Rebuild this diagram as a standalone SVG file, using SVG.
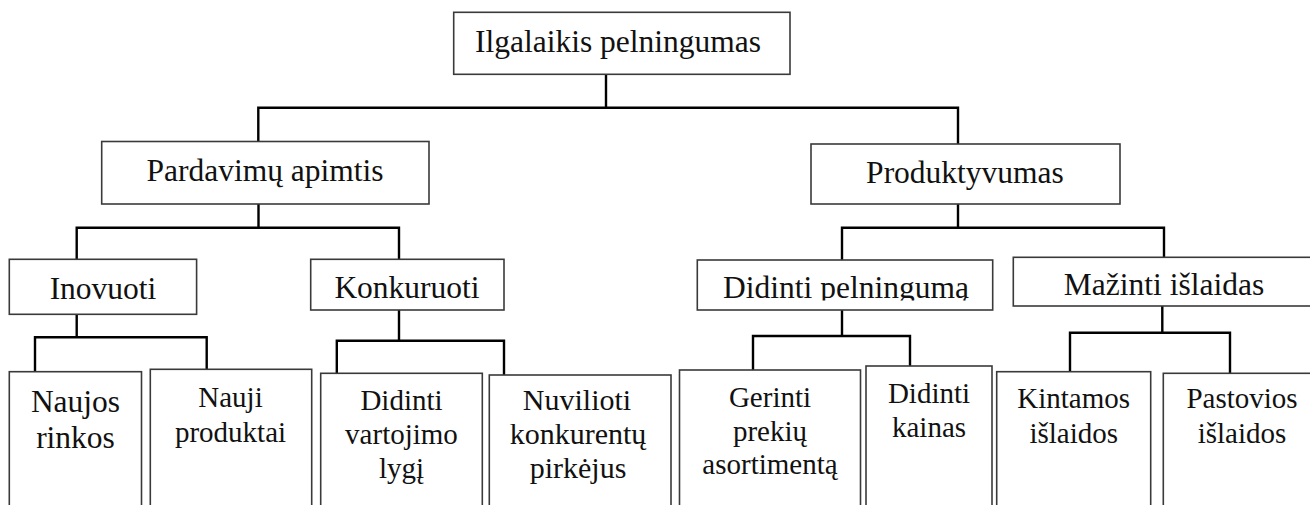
<svg xmlns="http://www.w3.org/2000/svg" width="1310" height="505" viewBox="0 0 1310 505">
<style>
.box{fill:#fff;stroke:#3a3a3a;stroke-width:1.6}
.t{fill:#111;text-anchor:middle}
.h{font-size:31.5px}
.s{font-size:29px}
.c{fill:none;stroke:#000;stroke-width:2.4;stroke-linecap:square}
</style>
<defs>
<clipPath id="clipDP"><rect x="697" y="260" width="296" height="40.5"/></clipPath>
</defs>
<rect width="1310" height="505" fill="#fff"/>
<g id="connectors">
<path class="c" d="M606 74.3V107.7M258.3 107.7H958M258.3 107.7V141.5M958 107.7V144"/>
<path class="c" d="M258.5 204V227.7M76.7 227.7H399M76.7 227.7V259.3M399 227.7V259.3"/>
<path class="c" d="M958 204V227.7M842 227.7H1164M842 227.7V260M1164 227.7V257.3"/>
<path class="c" d="M76.7 314.3V337.3M35 337.3H206.7M35 337.3V371.7M206.7 337.3V369.3"/>
<path class="c" d="M399 310V340.7M336.8 340.7H504M336.8 340.7V373.3M504 340.7V375"/>
<path class="c" d="M842 310V336M753 336H910M753 336V370M910 336V366"/>
<path class="c" d="M1162.3 306V332.7M1070 332.7H1230M1070 332.7V371.7M1230 332.7V373.3"/>
</g>
<g font-family="Liberation Serif">
<g id="n-ilgalaikis"><rect class="box" x="453.7" y="12.3" width="336.3" height="62"/><text class="t h" x="618" y="52">Ilgalaikis pelningumas</text></g>
<g id="n-pardavimu"><rect class="box" x="101.7" y="141.5" width="327.3" height="62.5"/><text class="t h" x="265" y="181">Pardavimų apimtis</text></g>
<g id="n-produktyvumas"><rect class="box" x="811" y="144" width="309" height="60"/><text class="t h" x="965" y="183">Produktyvumas</text></g>
<g id="n-inovuoti"><rect class="box" x="9.3" y="259.3" width="187.3" height="55"/><text class="t h" x="103" y="299">Inovuoti</text></g>
<g id="n-konkuruoti"><rect class="box" x="310.7" y="259.3" width="193.3" height="50.7"/><text class="t h" x="407" y="298">Konkuruoti</text></g>
<g id="n-didinti-pelninguma"><rect class="box" x="697.3" y="260" width="295.4" height="50"/><text class="t h" x="846" y="298.3" clip-path="url(#clipDP)">Didinti pelningumą</text></g>
<g id="n-mazinti"><rect class="box" x="1013.3" y="257.3" width="300" height="48.7"/><text class="t h" x="1164" y="295">Mažinti išlaidas</text></g>
<g id="n-naujos-rinkos"><rect class="box" x="9.3" y="371.7" width="132.2" height="140"/><text class="t h" x="75.5" y="411.7">Naujos</text><text class="t h" x="75.5" y="448.3">rinkos</text></g>
<g id="n-nauji-produktai"><rect class="box" x="150.3" y="369.3" width="161.4" height="140"/><text class="t s" x="230.5" y="406.7">Nauji</text><text class="t s" x="230.5" y="441.7">produktai</text></g>
<g id="n-didinti-vartojimo"><rect class="box" x="320.7" y="373.3" width="161.6" height="140"/><text class="t s" x="401.5" y="410">Didinti</text><text class="t s" x="401.5" y="444">vartojimo</text><text class="t s" x="401.5" y="478.3">lygį</text></g>
<g id="n-nuvilioti"><rect class="box" x="489.3" y="375" width="181.7" height="140"/><text class="t" font-size="30" x="577" y="410">Nuvilioti</text><text class="t" font-size="30" x="578" y="444">konkurentų</text><text class="t" font-size="30" x="578" y="478">pirkėjus</text></g>
<g id="n-gerinti"><rect class="box" x="679.5" y="370" width="181" height="140"/><text class="t s" x="770" y="406.7">Gerinti</text><text class="t s" x="770" y="440.7">prekių</text><text class="t s" x="770" y="474">asortimentą</text></g>
<g id="n-didinti-kainas"><rect class="box" x="866" y="366" width="126" height="145"/><text class="t s" x="929" y="403.3">Didinti</text><text class="t s" x="929" y="436.7">kainas</text></g>
<g id="n-kintamos"><rect class="box" x="996.7" y="371.7" width="154" height="140"/><text class="t s" x="1073.7" y="408.3">Kintamos</text><text class="t s" x="1073.7" y="443.3">išlaidos</text></g>
<g id="n-pastovios"><rect class="box" x="1163.3" y="373.3" width="150" height="140"/><text class="t s" x="1242" y="408.3">Pastovios</text><text class="t s" x="1242" y="443.3">išlaidos</text></g>
</g>
</svg>
